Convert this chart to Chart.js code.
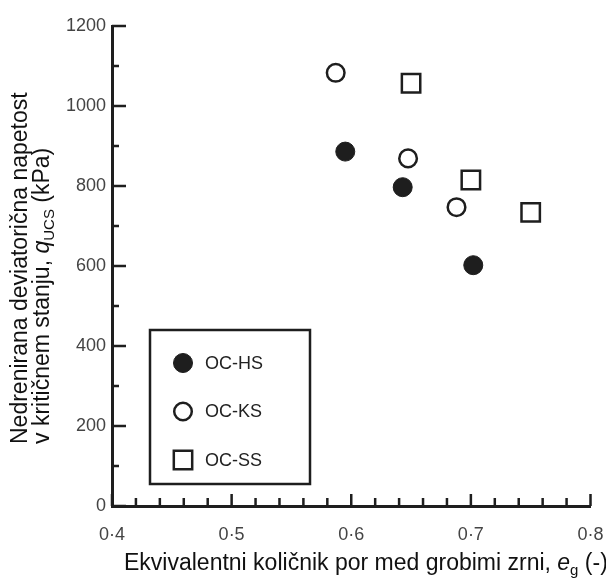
<!DOCTYPE html>
<html>
<head>
<meta charset="utf-8">
<script src="https://cdn.jsdelivr.net/npm/chart.js@4/dist/chart.umd.min.js"></script>
<style>html,body{margin:0;background:#fff}</style>
</head>
<body>
<canvas id="chart" width="606" height="579"></canvas>
<script>
// data
const seriesNames = ['OC-HS', 'OC-KS', 'OC-SS'];
const hsX = [0.595, 0.643, 0.702];
const hsY = [886, 797, 602];
const ksX = [0.587, 0.6475, 0.688];
const ksY = [1083, 869, 747];
const ssX = [0.650, 0.700, 0.750];
const ssY = [1057, 815, 734];
const xTicks = [0.4, 0.5, 0.6, 0.7, 0.8];
const yTicks = [0, 200, 400, 600, 800, 1000, 1200];

const ink = '#1e1e1e';
const font = "'Liberation Sans', Arial, sans-serif";

const pts = (xs, ys) => xs.map((x, i) => ({ x: x, y: ys[i] }));

// inward ticks, axis titles and the boxed legend
const decor = {
    id: 'decor',
    afterDraw(chart) {
        const { ctx, chartArea: a, scales: { x, y } } = chart;
        ctx.save();
        ctx.strokeStyle = ink;
        ctx.lineWidth = 2.5;
        ctx.beginPath();
        for (let i = 0; i <= 20; i++) {
            const px = x.getPixelForValue(0.4 + i * 0.02);
            const len = i % 5 === 0 ? 12 : 8;
            ctx.moveTo(px, a.bottom);
            ctx.lineTo(px, a.bottom - len);
        }
        for (let i = 0; i <= 12; i++) {
            const py = y.getPixelForValue(i * 100);
            const len = i % 2 === 0 ? 14 : 7;
            ctx.moveTo(a.left, py);
            ctx.lineTo(a.left + len, py);
        }
        ctx.stroke();

        // x title
        ctx.fillStyle = '#111';
        ctx.textBaseline = 'alphabetic';
        ctx.textAlign = 'left';
        let cx = 124;
        const bx = 570;
        const part = (txt, f, dy) => {
            ctx.font = f;
            ctx.fillText(txt, cx, bx + (dy || 0));
            cx += ctx.measureText(txt).width;
        };
        part('Ekvivalentni količnik por med grobimi zrni, ', '23px ' + font);
        part('e', 'italic 23px ' + font);
        part('g', '15px ' + font, 5);
        part(' (-)', '23px ' + font);

        // y title, two lines rotated
        ctx.save();
        ctx.translate(27, 444);
        ctx.rotate(-Math.PI / 2);
        ctx.font = '23px ' + font;
        ctx.fillText('Nedrenirana deviatorična napetost', 0, 0);
        ctx.restore();

        ctx.save();
        ctx.translate(49, 444);
        ctx.rotate(-Math.PI / 2);
        let lx = 0;
        const seg = (txt, f, dy) => {
            ctx.font = f;
            ctx.fillText(txt, lx, dy || 0);
            lx += ctx.measureText(txt).width;
        };
        seg('v kritičnem stanju, ', '23px ' + font);
        seg('q', 'italic 23px ' + font);
        seg('UCS', '15px ' + font, 5);
        seg(' (kPa)', '23px ' + font);
        ctx.restore();

        // legend box
        const lx0 = a.left + 38, ly0 = a.top + 304;
        ctx.lineWidth = 2.5;
        ctx.strokeRect(lx0, ly0, 160, 154);
        chart.data.datasets.forEach((ds, i) => {
            const ry = ly0 + 33 + i * 48.5;
            ctx.fillStyle = ds.backgroundColor;
            ctx.strokeStyle = ds.borderColor;
            ctx.lineWidth = ds.borderWidth;
            Chart.helpers.drawPoint(ctx, {
                pointStyle: ds.pointStyle, radius: ds.pointRadius,
                borderWidth: ds.borderWidth, rotation: 0
            }, lx0 + 33, ry);
            ctx.fillStyle = '#222';
            ctx.font = '18px ' + font;
            ctx.textBaseline = 'middle';
            ctx.fillText(seriesNames[i], lx0 + 55, ry + 1);
        });
        ctx.restore();
    }
};

new Chart(document.getElementById('chart'), {
    type: 'scatter',
    data: {
        datasets: [
            { label: seriesNames[0], data: pts(hsX, hsY), pointStyle: 'circle', pointRadius: 9.5,
              backgroundColor: ink, borderColor: ink, borderWidth: 1 },
            { label: seriesNames[1], data: pts(ksX, ksY), pointStyle: 'circle', pointRadius: 8.8,
              backgroundColor: '#fff', borderColor: ink, borderWidth: 2.5 },
            { label: seriesNames[2], data: pts(ssX, ssY), pointStyle: 'rect', pointRadius: 13,
              backgroundColor: '#fff', borderColor: ink, borderWidth: 2.5 }
        ]
    },
    options: {
        responsive: false,
        animation: false,
        events: [],
        layout: { padding: { top: 26, right: 13, left: 0, bottom: 0 } },
        plugins: { legend: { display: false }, tooltip: { enabled: false } },
        scales: {
            x: {
                type: 'linear', min: 0.4, max: 0.8,
                afterBuildTicks: s => { s.ticks = xTicks.map(v => ({ value: v })); },
                afterFit: s => { s.height = 73; s.paddingLeft = 0; s.paddingRight = 0; },
                grid: { drawOnChartArea: false, drawTicks: false },
                border: { color: ink, width: 3 },
                ticks: {
                    padding: 18, color: '#444', font: { family: font, size: 18 },
                    callback: v => v.toFixed(1).replace('.', '·')
                }
            },
            y: {
                type: 'linear', min: 0, max: 1200,
                afterBuildTicks: s => { s.ticks = yTicks.map(v => ({ value: v })); },
                afterFit: s => { s.width = 112; s.paddingTop = 0; s.paddingBottom = 0; },
                grid: { drawOnChartArea: false, drawTicks: false },
                border: { color: ink, width: 3 },
                ticks: {
                    padding: 6, color: '#444', font: { family: font, size: 18 },
                    callback: v => String(v)
                }
            }
        }
    },
    plugins: [decor]
});
</script>
</body>
</html>
